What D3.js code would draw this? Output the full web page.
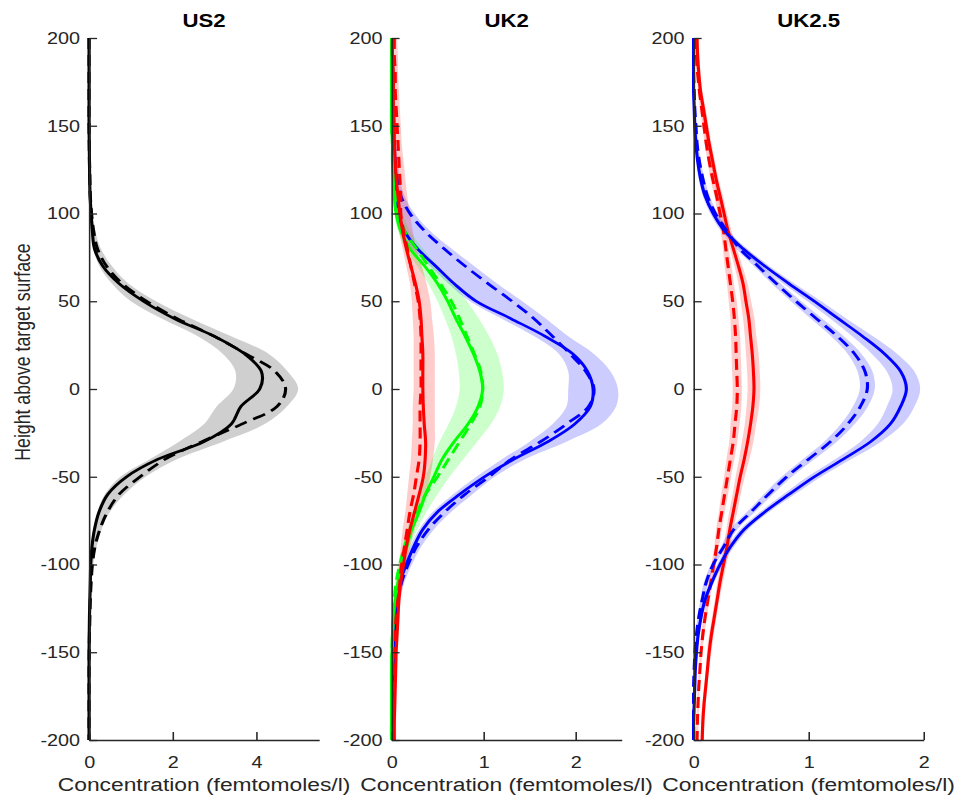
<!DOCTYPE html>
<html>
<head>
<meta charset="utf-8">
<script src="https://cdn.jsdelivr.net/npm/d3@7"></script>
<style>
  html, body { margin: 0; padding: 0; background: #fff; }
  svg { display: block; }
</style>
</head>
<body>
<div id="chart"></div>
<script>
// ---------------- DATA ----------------
const heights = [200,190,180,170,160,150,140,130,120,110,100,90,80,70,60,50,40,30,20,10,0,
  -10,-20,-30,-40,-50,-60,-70,-80,-90,-100,-110,-120,-130,-140,-150,-160,-170,-180,-190,-200];

const panelTitles = ["US2", "UK2", "UK2.5"];
const xMaxes = [5.5, 2.5, 2];
const xTicksUS2 = [0, 2, 4];
const xTicksUK2 = [0, 1, 2];
const xTicksUK25 = [0, 1, 2];
const yTicks = [-200, -150, -100, -50, 0, 50, 100, 150, 200];
const xLabel = "Concentration (femtomoles/l)";
const yLabel = "Height above target surface";

// US2 (black)
const us2Solid = [0,0,0,0,0,0,0.005,0.01,0.015,0.025,0.05,0.08,0.13,0.33,0.72,1.3,2.05,3.0,3.72,4.12,4.08,3.63,3.4,2.75,1.65,0.9,0.45,0.24,0.13,0.07,0.04,0.03,0.02,0.01,0.005,0,0,0,0,0,0];
const us2Dashed = [0,0,0,0,0,0,0.005,0.01,0.02,0.03,0.06,0.11,0.2,0.42,0.8,1.38,2.12,3.0,3.75,4.45,4.7,4.49,3.65,2.7,1.82,1.22,0.72,0.44,0.26,0.14,0.08,0.05,0.03,0.02,0.01,0.005,0,0,0,0,0];
const us2BandLo = [0,0,0,0,0,0,0,0,0,0.01,0.02,0.05,0.1,0.25,0.55,1.0,1.75,2.6,3.2,3.5,3.45,3.05,2.75,2.15,1.45,0.75,0.38,0.2,0.1,0.04,0.02,0.01,0,0,0,0,0,0,0,0,0];
const us2BandHi = [0.02,0.02,0.02,0.02,0.02,0.02,0.03,0.03,0.04,0.06,0.08,0.15,0.28,0.55,0.95,1.6,2.45,3.4,4.3,4.75,5.0,4.73,4.2,3.2,2.1,1.35,0.85,0.5,0.3,0.18,0.1,0.06,0.04,0.03,0.02,0.02,0.02,0.02,0.02,0.02,0.02];

// UK2 blue
const uk2BlueSolid = [0,0,0,0.005,0.01,0.01,0.02,0.03,0.04,0.05,0.07,0.14,0.28,0.48,0.68,0.92,1.3,1.67,1.97,2.13,2.19,2.16,1.99,1.7,1.33,1.01,0.74,0.5,0.34,0.24,0.16,0.09,0.06,0.04,0.03,0.02,0.02,0.01,0.01,0.01,0];
const uk2BlueDashed = [0,0,0.005,0.01,0.01,0.02,0.03,0.04,0.06,0.1,0.2,0.36,0.57,0.8,1.05,1.31,1.55,1.75,1.94,2.11,2.2,2.14,1.9,1.62,1.3,1.06,0.8,0.58,0.4,0.27,0.18,0.11,0.07,0.05,0.03,0.02,0.01,0.01,0.01,0,0];
const uk2BlueLo = [0,0,0,0,0,0,0.01,0.02,0.03,0.03,0.05,0.1,0.22,0.42,0.62,0.85,1.2,1.55,1.82,1.92,1.92,1.9,1.75,1.5,1.2,0.92,0.67,0.45,0.3,0.2,0.13,0.07,0.04,0.02,0.01,0.01,0,0,0,0,0];
const uk2BlueHi = [0.02,0.02,0.02,0.03,0.03,0.04,0.05,0.07,0.09,0.14,0.25,0.42,0.65,0.9,1.15,1.42,1.68,1.92,2.2,2.38,2.46,2.44,2.28,1.9,1.45,1.12,0.88,0.65,0.46,0.32,0.22,0.14,0.09,0.06,0.04,0.04,0.03,0.03,0.02,0.02,0.02];

// UK2 green
const uk2GreenSolid = [0,0,0,0,0,0,0.01,0.01,0.02,0.03,0.05,0.1,0.2,0.36,0.5,0.61,0.7,0.8,0.89,0.96,0.99,0.94,0.83,0.68,0.55,0.46,0.37,0.3,0.22,0.165,0.11,0.07,0.04,0.02,0.01,0.005,0,0,0,0,0];
const uk2GreenDashed = [0,0,0,0,0,0,0.01,0.02,0.03,0.05,0.08,0.14,0.27,0.4,0.53,0.65,0.74,0.82,0.9,0.97,0.99,0.96,0.86,0.74,0.62,0.5,0.37,0.28,0.2,0.14,0.09,0.05,0.03,0.02,0.01,0.005,0,0,0,0,0];
const uk2GreenLo = [0,0,0,0,0,0,0,0,0.01,0.02,0.03,0.07,0.15,0.28,0.4,0.5,0.58,0.65,0.7,0.73,0.74,0.7,0.62,0.52,0.44,0.37,0.3,0.23,0.17,0.12,0.07,0.04,0.02,0.01,0,0,0,0,0,0,0];
const uk2GreenHi = [0.01,0.01,0.01,0.01,0.02,0.02,0.03,0.04,0.06,0.08,0.12,0.2,0.34,0.5,0.67,0.82,0.95,1.06,1.15,1.2,1.22,1.18,1.08,0.93,0.78,0.63,0.5,0.38,0.28,0.2,0.14,0.09,0.06,0.04,0.03,0.02,0.01,0.01,0.01,0.01,0.01];

// UK2 red
const uk2RedSolid = [0.01,0.01,0.02,0.02,0.02,0.03,0.03,0.04,0.05,0.07,0.09,0.12,0.16,0.21,0.26,0.3,0.32,0.33,0.34,0.34,0.34,0.345,0.355,0.37,0.365,0.345,0.3,0.25,0.2,0.16,0.13,0.1,0.08,0.07,0.06,0.05,0.045,0.04,0.035,0.03,0.03];
const uk2RedDashed = [0.03,0.03,0.04,0.04,0.05,0.06,0.07,0.08,0.09,0.1,0.1,0.13,0.17,0.21,0.25,0.29,0.31,0.32,0.32,0.32,0.32,0.31,0.31,0.31,0.3,0.27,0.24,0.2,0.17,0.14,0.11,0.09,0.07,0.05,0.04,0.04,0.03,0.03,0.03,0.02,0.02];
const uk2RedLo = [0,0,0,0,0,0.01,0.02,0.02,0.03,0.04,0.05,0.08,0.12,0.16,0.2,0.22,0.23,0.24,0.24,0.24,0.24,0.23,0.23,0.22,0.21,0.19,0.17,0.15,0.12,0.1,0.08,0.06,0.04,0.03,0.02,0.02,0.01,0.01,0.01,0.01,0.01];
const uk2RedHi = [0.06,0.07,0.07,0.08,0.09,0.1,0.11,0.13,0.15,0.17,0.2,0.23,0.27,0.33,0.38,0.42,0.44,0.46,0.47,0.47,0.47,0.47,0.47,0.47,0.45,0.42,0.37,0.31,0.25,0.2,0.16,0.13,0.1,0.08,0.07,0.06,0.06,0.05,0.05,0.05,0.05];

// UK2.5 blue
const uk25BlueSolid = [0,0,0,0,0.005,0.01,0.02,0.035,0.06,0.1,0.17,0.27,0.43,0.62,0.83,1.05,1.26,1.47,1.66,1.8,1.85,1.8,1.71,1.54,1.3,1.05,0.83,0.62,0.44,0.32,0.23,0.16,0.1,0.065,0.04,0.025,0.015,0.01,0.005,0,0];
const uk25BlueDashed = [0,0,0,0.005,0.01,0.02,0.03,0.05,0.08,0.12,0.19,0.29,0.4,0.56,0.72,0.89,1.07,1.25,1.4,1.49,1.51,1.45,1.34,1.19,1.0,0.81,0.65,0.5,0.35,0.26,0.17,0.11,0.075,0.045,0.025,0.012,0.005,0,0,0,0];
const uk25BlueSolidSpread = [0.01,0.01,0.01,0.01,0.01,0.01,0.01,0.01,0.015,0.02,0.025,0.03,0.035,0.04,0.05,0.06,0.07,0.09,0.11,0.12,0.12,0.12,0.11,0.09,0.07,0.06,0.05,0.04,0.035,0.03,0.025,0.02,0.015,0.01,0.01,0.01,0.01,0.01,0.01,0.01,0.01];
const uk25BlueDashedSpread = [0.01,0.01,0.01,0.01,0.01,0.01,0.01,0.01,0.015,0.02,0.02,0.025,0.03,0.035,0.04,0.045,0.05,0.055,0.06,0.065,0.065,0.065,0.06,0.055,0.05,0.045,0.04,0.035,0.03,0.025,0.02,0.02,0.015,0.01,0.01,0.01,0.01,0.01,0.01,0.01,0.01];

// UK2.5 red
const uk25RedSolid = [0.03,0.035,0.045,0.06,0.085,0.11,0.135,0.165,0.195,0.23,0.265,0.3,0.345,0.39,0.43,0.455,0.48,0.495,0.51,0.52,0.525,0.515,0.495,0.47,0.44,0.405,0.375,0.345,0.315,0.29,0.26,0.23,0.205,0.18,0.155,0.135,0.12,0.105,0.09,0.08,0.075];
const uk25RedDashed = [0.02,0.025,0.035,0.05,0.07,0.09,0.11,0.135,0.165,0.2,0.23,0.26,0.28,0.3,0.32,0.34,0.355,0.365,0.37,0.375,0.38,0.375,0.36,0.345,0.32,0.295,0.27,0.245,0.22,0.2,0.175,0.15,0.125,0.1,0.08,0.065,0.055,0.045,0.038,0.033,0.03];
const uk25RedSolidSpread = [0.015,0.015,0.015,0.015,0.02,0.02,0.02,0.02,0.02,0.025,0.025,0.03,0.03,0.035,0.04,0.045,0.05,0.05,0.055,0.055,0.055,0.055,0.05,0.05,0.045,0.04,0.035,0.035,0.03,0.03,0.025,0.025,0.02,0.02,0.02,0.02,0.015,0.015,0.015,0.015,0.015];
const uk25RedDashedSpread = [0.01,0.01,0.01,0.01,0.015,0.015,0.015,0.015,0.02,0.02,0.02,0.025,0.025,0.03,0.03,0.035,0.035,0.04,0.04,0.04,0.04,0.04,0.04,0.035,0.035,0.03,0.03,0.025,0.025,0.02,0.02,0.02,0.015,0.015,0.015,0.01,0.01,0.01,0.01,0.01,0.01];

// ---------------- LAYOUT ----------------
// Figure drawn in an 802.5-unit-wide space, stretched horizontally to 963 px (like the reference).
const W = 802.5, H = 802;
const lefts = [74.2, 326.3, 578.0];
const panelW = 191.7;
const plotTop = 38, plotBottom = 740;
const axisColor = "#262626";
const FONT = "'Liberation Sans', Arial, Helvetica, sans-serif";

const RED = "#ff0000", GREEN = "#00ff00", BLUE = "#0000ff", BLACK = "#000000";

function pairs(vals) { return vals.map((v, i) => ({ h: heights[i], v })); }
function bandFrom(lo, hi) { return heights.map((h, i) => ({ h, lo: lo[i], hi: hi[i] })); }
function bandSpread(mid, sp) { return heights.map((h, i) => ({ h, lo: mid[i] - sp[i], hi: mid[i] + sp[i] })); }

const panels = [
  {
    title: panelTitles[0], xmax: xMaxes[0], xticks: xTicksUS2,
    bands: [{ data: bandFrom(us2BandLo, us2BandHi), color: BLACK, op: 0.19 }],
    lines: [
      { data: pairs(us2Dashed), color: BLACK, dash: true },
      { data: pairs(us2Solid), color: BLACK, dash: false }
    ]
  },
  {
    title: panelTitles[1], xmax: xMaxes[1], xticks: xTicksUK2,
    bands: [
      { data: bandFrom(uk2BlueLo, uk2BlueHi), color: BLUE, op: 0.2 },
      { data: bandFrom(uk2GreenLo, uk2GreenHi), color: GREEN, op: 0.2 },
      { data: bandFrom(uk2RedLo, uk2RedHi), color: RED, op: 0.2 }
    ],
    lines: [
      { data: pairs(uk2BlueDashed), color: BLUE, dash: true },
      { data: pairs(uk2BlueSolid), color: BLUE, dash: false },
      { data: pairs(uk2GreenDashed), color: GREEN, dash: true },
      { data: pairs(uk2GreenSolid), color: GREEN, dash: false },
      { data: pairs(uk2RedDashed), color: RED, dash: true },
      { data: pairs(uk2RedSolid), color: RED, dash: false }
    ]
  },
  {
    title: panelTitles[2], xmax: xMaxes[2], xticks: xTicksUK25,
    bands: [
      { data: bandSpread(uk25RedDashed, uk25RedDashedSpread), color: RED, op: 0.2 },
      { data: bandSpread(uk25RedSolid, uk25RedSolidSpread), color: RED, op: 0.2 },
      { data: bandSpread(uk25BlueDashed, uk25BlueDashedSpread), color: BLUE, op: 0.2 },
      { data: bandSpread(uk25BlueSolid, uk25BlueSolidSpread), color: BLUE, op: 0.2 }
    ],
    lines: [
      { data: pairs(uk25RedDashed), color: RED, dash: true },
      { data: pairs(uk25RedSolid), color: RED, dash: false },
      { data: pairs(uk25BlueDashed), color: BLUE, dash: true },
      { data: pairs(uk25BlueSolid), color: BLUE, dash: false }
    ]
  }
];

// ---------------- DRAW ----------------
const svg = d3.select("#chart").append("svg")
  .attr("width", 963).attr("height", 802)
  .attr("viewBox", `0 0 ${W} ${H}`)
  .attr("preserveAspectRatio", "none");

svg.append("rect").attr("width", W).attr("height", H).attr("fill", "#fff");

const y = d3.scaleLinear().domain([-200, 200]).range([plotBottom, plotTop]);
const plainFmt = d => String(d);

panels.forEach((p, pi) => {
  const x = d3.scaleLinear().domain([0, p.xmax]).range([lefts[pi], lefts[pi] + panelW]);
  const g = svg.append("g");

  const area = d3.area()
    .y(d => y(d.h)).x0(d => x(Math.max(0, d.lo))).x1(d => x(d.hi))
    .curve(d3.curveCatmullRom);
  const line = d3.line()
    .y(d => y(d.h)).x(d => x(d.v))
    .curve(d3.curveCatmullRom);

  g.selectAll("path.band").data(p.bands).join("path")
    .attr("class", "band")
    .attr("d", b => area(b.data))
    .attr("fill", b => b.color)
    .attr("fill-opacity", b => b.op)
    .attr("stroke", "none");

  g.selectAll("path.curve").data(p.lines).join("path")
    .attr("class", "curve")
    .attr("d", l => line(l.data))
    .attr("fill", "none")
    .attr("stroke", l => l.color)
    .attr("stroke-width", 2.6)
    .attr("stroke-linejoin", "round")
    .attr("stroke-dasharray", l => l.dash ? "11,6" : null);

  // Y axis (ticks pointing inward)
  const yAxis = d3.axisLeft(y).tickValues(yTicks).tickFormat(plainFmt)
    .tickSizeInner(-6.7).tickSizeOuter(0).tickPadding(7.5);
  const gy = svg.append("g").attr("transform", `translate(${lefts[pi]},0)`).call(yAxis);
  // X axis (ticks pointing inward)
  const xAxis = d3.axisBottom(x).tickValues(p.xticks).tickFormat(plainFmt)
    .tickSizeInner(-8).tickSizeOuter(0).tickPadding(16);
  const gx = svg.append("g").attr("transform", `translate(0,${plotBottom})`).call(xAxis);

  [gy, gx].forEach(ax => {
    ax.attr("font-family", FONT).attr("font-size", 16.5);
    ax.select(".domain").attr("stroke", axisColor).attr("stroke-width", 1.3);
    ax.selectAll(".tick line").attr("stroke", axisColor).attr("stroke-width", 1.3);
    ax.selectAll(".tick text").attr("fill", axisColor);
  });

  // Title
  svg.append("text")
    .attr("x", lefts[pi] + panelW / 2).attr("y", 27)
    .attr("text-anchor", "middle")
    .attr("font-family", FONT).attr("font-weight", "bold").attr("font-size", 18.5)
    .attr("fill", "#000")
    .text(p.title);

  // X label
  svg.append("text")
    .attr("x", lefts[pi] + panelW / 2).attr("y", 791.5)
    .attr("text-anchor", "middle")
    .attr("font-family", FONT).attr("font-size", 19)
    .attr("fill", axisColor)
    .text(xLabel);
});

// Y label
svg.append("text")
  .attr("transform", `translate(25,352) rotate(-90)`)
  .attr("text-anchor", "middle")
  .attr("font-family", FONT).attr("font-size", 17.7)
  .attr("fill", axisColor)
  .text(yLabel);
</script>
</body>
</html>
